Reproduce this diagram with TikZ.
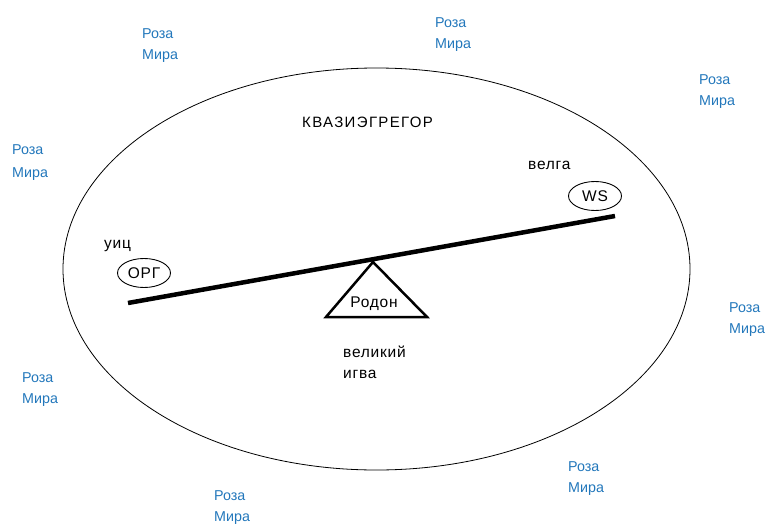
\documentclass[tikz,border=0pt]{standalone}
\usepackage{fontspec}
\setmainfont{Liberation Sans}
\usetikzlibrary{shapes.geometric}
\begin{document}
\begin{tikzpicture}[x=1pt,y=-1pt,
  lbl/.style={font=\fontsize{15.5}{18}\selectfont\addfontfeature{LetterSpace=5}, inner sep=0pt},
  rosa/.style={inner sep=0pt, text=rosablue, align=left, anchor=base west, font=\fontsize{14.3}{21}\selectfont},
  tag/.style={draw, ellipse, line width=0.9pt, minimum width=53pt, minimum height=29pt, inner sep=0pt, lbl}]
\definecolor{rosablue}{HTML}{2277BB}
\useasboundingbox (0,0) rectangle (769,525);
\node[draw, ellipse, line width=0.8pt, minimum width=627pt, minimum height=402pt] (world) at (376.5,269) {};
\coordinate (bl) at (128,303);
\coordinate (br) at (615,216);
\draw[line width=4.5pt] (bl) -- (br);
\coordinate (apex) at (373,262);
\coordinate (tl) at (326,317);
\coordinate (tr) at (427,317);
\draw[line width=2.5pt, line join=miter] (apex) -- (tl) -- (tr) -- cycle;
\node[lbl, anchor=base] (rodon) at (374,307) {Родон};
\node[tag] (org) at (144,273) {ОРГ};
\node[tag] (ws) at (595,196) {WS};
\node[lbl, anchor=base west] (uic) at (104,248) {уиц};
\node[lbl, anchor=base west] (velga) at (528,169) {велга};
\node[lbl, anchor=base west, font=\fontsize{15}{18}\selectfont\addfontfeature{LetterSpace=9}] (kvazi) at (302,127) {КВАЗИЭГРЕГОР};
\node[lbl, anchor=base west] (velik) at (343,357) {великий};
\node[lbl, anchor=base west] (igva) at (343,378) {игва};
\node[rosa] (r1) at (142,59) {Роза\\Мира};
\node[rosa] (r2) at (435,48) {Роза\\Мира};
\node[rosa] (r3) at (699,105) {Роза\\Мира};
\node[rosa, font=\fontsize{14.3}{23}\selectfont] (r4) at (12,177) {Роза\\Мира};
\node[rosa] (r5) at (729,333) {Роза\\Мира};
\node[rosa] (r6) at (22,403) {Роза\\Мира};
\node[rosa] (r7) at (568,492) {Роза\\Мира};
\node[rosa] (r8) at (214,521) {Роза\\Мира};
\end{tikzpicture}
\end{document}
